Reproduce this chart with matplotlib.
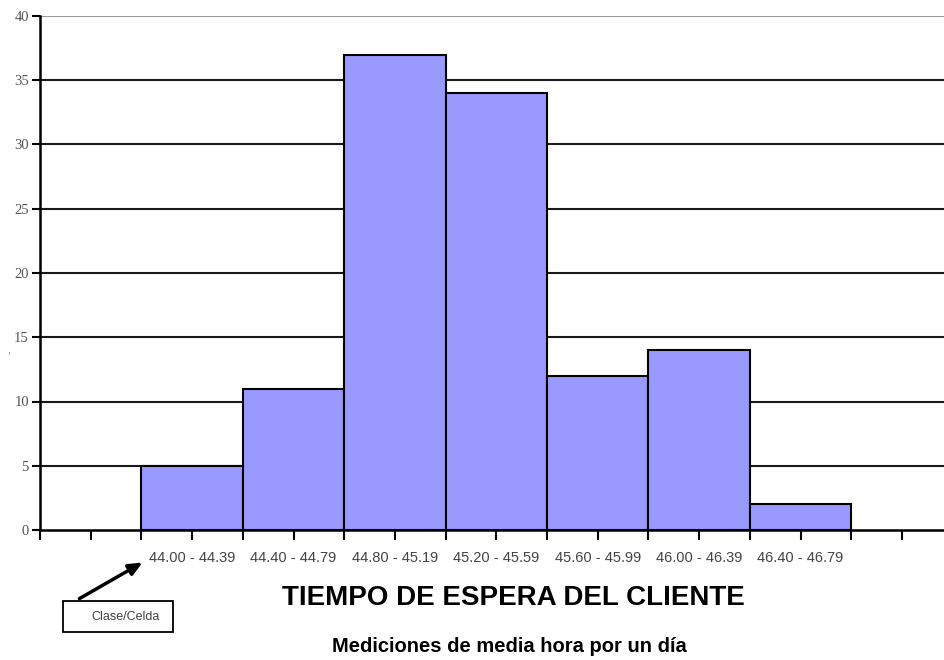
import numpy as np
import matplotlib
matplotlib.use("Agg")
import matplotlib.pyplot as plt
from matplotlib.patches import Rectangle

# data
clases = ["44.00 - 44.39", "44.40 - 44.79", "44.80 - 45.19", "45.20 - 45.59",
          "45.60 - 45.99", "46.00 - 46.39", "46.40 - 46.79"]
frecuencias = [5, 11, 37, 34, 12, 14, 2]
yticks = [0, 5, 10, 15, 20, 25, 30, 35, 40]

titulo = "TIEMPO DE ESPERA DEL CLIENTE"
subtitulo = "Mediciones de media hora por un día"
nota = "Clase/Celda"

W, H = 944, 660
fig = plt.figure(figsize=(W / 100, H / 100), dpi=100)
ax = fig.add_axes([40 / W, 1 - 530 / H, 1 - 40 / W, (530 - 16) / H])

# one empty class before the data, as in the original sheet
pos = np.arange(len(clases)) + 1.5
ax.bar(pos, frecuencias, width=1.0, color="#9999ff", edgecolor="black",
       linewidth=1.5, zorder=3)

# grid lines
for y in yticks[1:]:
    c = "#9a9a9a" if y == 40 else "#1a1a1a"
    ax.axhline(y, color=c, lw=1.5, zorder=1)

ax.set_yticks(yticks)
ax.set_yticklabels([str(v) for v in yticks], family="Liberation Serif",
                   fontsize=10.5, color="#555555")
ax.set_xticks(np.arange(0, 9.0, 0.5))
ax.set_xticklabels([])
ax.tick_params(axis="x", direction="out", length=7, width=1.5, color="black")
ax.tick_params(axis="y", direction="out", length=6, width=1.5, color="black", pad=2)

# limits last so the ticks do not widen them
xmax = (W - 40) / 101.4
ax.set_xlim(0, xmax)
ax.set_ylim(0, 40)

for s in ["top", "right"]:
    ax.spines[s].set_visible(False)
for s in ["left", "bottom"]:
    ax.spines[s].set_linewidth(1.8)
    ax.spines[s].set_color("black")
    ax.spines[s].set_zorder(4)

# class labels under the bars
for p, lab in zip(pos, clases):
    ax.text(p, -2.2, lab, ha="center", va="center", fontsize=10.5,
            family="Liberation Sans", color="#444444")

fig.text(513 / W, 1 - 598 / H, titulo, ha="center", va="center",
         fontsize=20, fontweight="bold", family="Liberation Sans")
fig.text(509 / W, 1 - 647 / H, subtitulo, ha="center", va="center",
         fontsize=14.5, fontweight="bold", family="Liberation Sans")

# small stray mark on the left
fig.text(10 / W, 1 - 352 / H, "-", ha="center", va="center", fontsize=7,
         color="#777777", rotation=90)

# Clase/Celda note with arrow
fig.patches.append(Rectangle((63 / W, 1 - 632 / H), 110 / W, 31 / H,
                             transform=fig.transFigure, fill=False,
                             ec="black", lw=1.3))
fig.text(126 / W, 1 - 617 / H, nota, ha="center", va="center", fontsize=9,
         family="Liberation Sans", color="#444444")
ax.annotate("", xy=(145 / W, 1 - 561 / H), xycoords="figure fraction",
            xytext=(77 / W, 1 - 600 / H), textcoords="figure fraction",
            arrowprops=dict(arrowstyle="-|>,head_length=0.8,head_width=0.35",
                            color="black", lw=2.5),
            annotation_clip=False)

fig.savefig("out.png", dpi=100)
